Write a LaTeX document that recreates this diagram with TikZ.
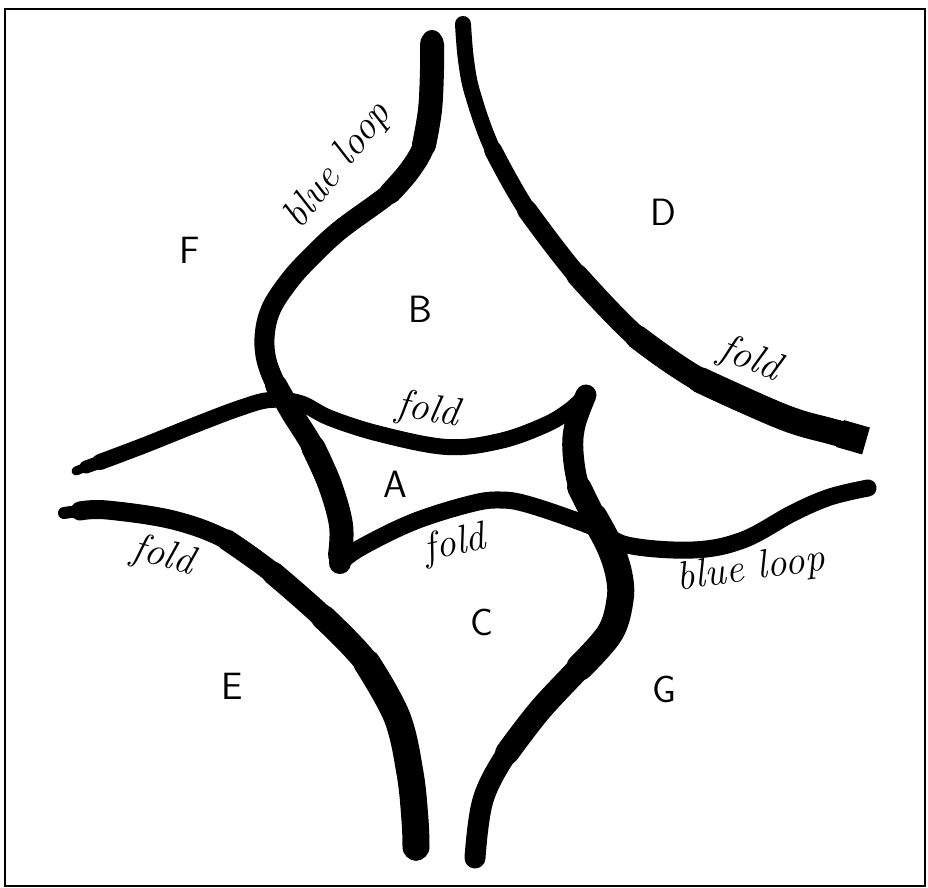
\documentclass[tikz,border=0pt]{standalone}
\usepackage{tikz}

\begin{document}
\begin{tikzpicture}[
  x=0.5pt,y=-0.5pt,
  stroke/.style={draw=black,line cap=round,line join=round},
  smoothline/.style={smooth,tension=0.6},
  region/.style={font=\sffamily\fontsize{19}{22}\selectfont,inner sep=0pt},
  curvetext/.style={font=\itshape\fontsize{20}{24}\selectfont,inner sep=0pt}
]
\useasboundingbox (0,0) rectangle (928,888);
\draw[line width=1.2pt] (5,9) rectangle (925,886);

\coordinate (cuspL) at (340,563);
\coordinate (cuspR) at (586,395);

% blue loop from the top, round B, down the left of A
\draw[stroke,line width=10pt] plot[smoothline] coordinates {(432,40) (432,70)
  (430,110) (424,145) (410,170) (390,193) (340,230) (310,258) (290,280)
  (272,307) (265,332) (266,358) (276,385) (292,413) (313,447) (330,485)
  (341,525) (cuspL)};
\draw[stroke,line width=11pt] plot[smoothline] coordinates {(432,42) (432,70)
  (430,110) (424,145) (410,170) (390,193)};
\draw[stroke,line width=12pt] plot[smoothline] coordinates {(432,44) (432,70)
  (430,110) (424,145)};
\draw[stroke,line width=11pt] plot[smoothline] coordinates {(276,385) (292,413)
  (313,447) (330,485) (341,525) (cuspL)};
\draw[stroke,line width=12pt] plot[smoothline] coordinates {(313,447) (330,485)
  (341,525) (340,555)};

% from the left edge along the top of A
\draw[stroke,line width=8pt] plot[smoothline] coordinates {(100,462) (145,445)
  (195,425) (240,408) (270,400) (300,403) (330,418) (380,434) (447,447)
  (500,441) (545,425) (570,410) (cuspR)};
\draw[stroke,line width=6.5pt] plot[smoothline] coordinates {(86,467) (100,462)
  (120,455)};
\draw[stroke,line width=4.5pt] plot[smoothline] coordinates {(76,471) (86,467)
  (100,462)};

% down the right of A to the bottom edge
\draw[stroke,line width=10.5pt] plot[smoothline] coordinates {(cuspR) (575,425)
  (573,452) (579,487) (594,517) (610,547) (619,575) (620,600) (610,633)
  (580,667) (540,710) (507,753) (483,800) (475,858)};
\draw[stroke,line width=12pt] plot[smoothline] coordinates {(579,487) (594,517)
  (610,547) (619,575) (620,600) (610,633) (580,667) (540,710) (507,753)};
\draw[stroke,line width=13.5pt] plot[smoothline] coordinates {(594,517)
  (610,547) (619,575) (620,600) (610,633) (580,667)};

% along the bottom of A to the right edge
\draw[stroke,line width=8.5pt] plot[smoothline] coordinates {(cuspL) (360,548)
  (413,522) (470,504) (500,500) (530,505) (593,527) (627,545) (693,550)
  (743,540) (793,513) (830,497) (868,488)};

% fold round D
\draw[stroke,line width=8pt] plot[smoothline] coordinates {(463,24) (466,60)
  (473,95) (493,150) (527,210) (577,275) (637,337) (700,380) (783,417)};
\draw[stroke,line width=9pt] plot[smoothline] coordinates {(493,150) (527,210)
  (577,275) (637,337) (700,380) (783,417)};
\draw[stroke,line width=10pt] plot[smoothline] coordinates {(527,210) (577,275)
  (637,337) (700,380) (783,417)};
\draw[stroke,line width=11pt] plot[smoothline] coordinates {(577,275) (637,337)
  (700,380) (783,417)};
\draw[stroke,line width=12pt] plot[smoothline] coordinates {(637,337) (700,380)
  (783,417) (830,431)};
\draw[stroke,line width=13pt] plot[smoothline] coordinates {(700,380) (783,417)
  (830,431) (850,436)};
\draw[draw=black,line width=14pt] (840,433.5) -- (866,441);

% fold round E
\draw[stroke,line width=6pt] plot[smoothline] coordinates {(64,513) (80,511)
  (100,510)};
\draw[stroke,line width=9.5pt] plot[smoothline] coordinates {(80,511) (107,510)
  (173,520) (227,540) (273,573) (323,617) (367,663) (397,717) (410,773)
  (415,820) (416,850)};
\draw[stroke,line width=10.5pt] plot[smoothline] coordinates {(227,540)
  (273,573) (323,617) (367,663) (397,717) (410,773) (415,820) (416,850)};
\draw[stroke,line width=11.5pt] plot[smoothline] coordinates {(273,573)
  (323,617) (367,663) (397,717) (410,773) (415,820) (416,849)};
\draw[stroke,line width=12.5pt] plot[smoothline] coordinates {(323,617)
  (367,663) (397,717) (410,773) (415,820) (416,848)};
\draw[stroke,line width=13.5pt] plot[smoothline] coordinates {(367,663)
  (397,717) (410,773) (415,820) (416,847)};

\node[region] (F) at (190,250) {F};
\node[region] (B) at (420,309) {B};
\node[region] (D) at (663,212) {D};
\node[region] (A) at (395,484) {A};
\node[region] (C) at (482,622) {C};
\node[region] (G) at (664,689) {G};
\node[region] (E) at (232,686) {E};

\node[curvetext,rotate=52] (loopF) at (338,166) {blue loop};
\node[curvetext,rotate=8] (loopG) at (751,570) {blue loop};
\node[curvetext,rotate=-22] (foldD) at (750,360) {fold};
\node[curvetext,rotate=-10] (foldAB) at (428,411) {fold};
\node[curvetext,rotate=12] (foldAC) at (455,545) {fold};
\node[curvetext,rotate=-15] (foldE) at (163,557) {fold};
\end{tikzpicture}
\end{document}
